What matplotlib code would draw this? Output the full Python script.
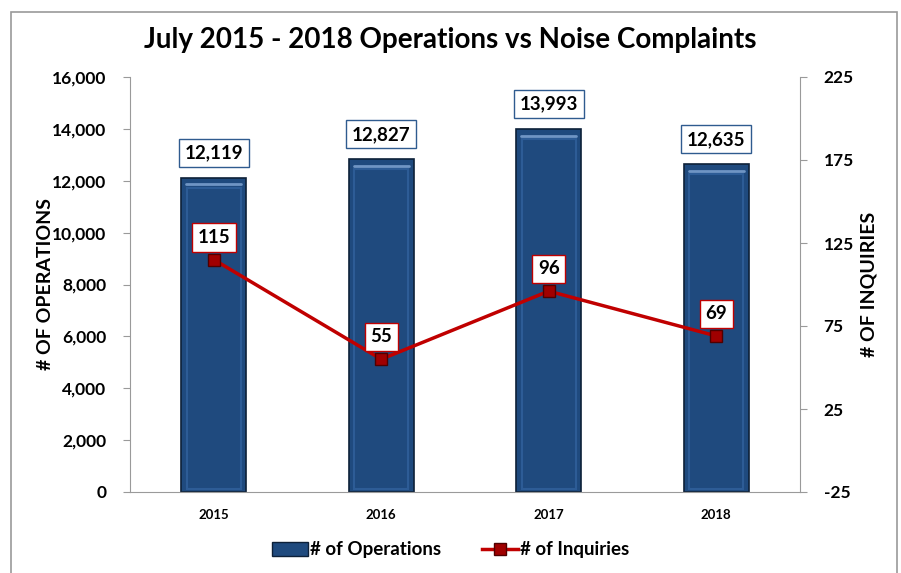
import numpy as np
import matplotlib.pyplot as plt
from matplotlib.patches import Rectangle, Patch
from matplotlib.lines import Line2D

years = ['2015', '2016', '2017', '2018']
operations = [12119, 12827, 13993, 12635]
inquiries = [115, 55, 96, 69]

plt.rcParams['font.family'] = ['Lato', 'DejaVu Sans']
plt.rcParams['font.weight'] = 'bold'
plt.rcParams['axes.unicode_minus'] = False

fig = plt.figure(figsize=(9.01, 5.73), dpi=100)
W, H = 901, 573

# outer chart frame
fig.patches.append(Rectangle((11 / W, -0.01), (897 - 11) / W, 1 - 12 / H + 0.01,
                             transform=fig.transFigure, fill=False,
                             edgecolor='#9a9a9a', linewidth=1.2))

ax = fig.add_axes([130 / W, 1 - 492 / H, (800 - 130) / W, (492 - 77) / H])
ax2 = ax.twinx()

x = np.arange(len(years))
bw = 0.39
bars = ax.bar(x, operations, width=bw, color='#1F4A7E', edgecolor='#0d2038',
              linewidth=1.2, zorder=2)
# lighter inner bevel for the bars
for b in bars:
    bx, by, bwid, bh = b.get_x(), b.get_y(), b.get_width(), b.get_height()
    ax.add_patch(Rectangle((bx + 0.035, by + 120), bwid - 0.07, bh - 500,
                           fill=False, edgecolor='#2d5c96', linewidth=1.5, zorder=3))
    ax.plot([bx + 0.03, bx + bwid - 0.03], [by + bh - 250] * 2, color='#6f95c4',
            linewidth=2, solid_capstyle='round', zorder=3)

for xi, v in zip(x, operations):
    ax.annotate(f'{v:,}', (xi, v), xytext=(0, 18), textcoords='offset points',
                ha='center', va='center', fontsize=13.5, fontweight='bold',
                bbox=dict(boxstyle='square,pad=0.3', fc='white', ec='#2f5b8f', lw=1),
                zorder=6)

ax.set_ylim(0, 16000)
ax.set_yticks(np.arange(0, 16001, 2000))
ax.set_yticklabels([f'{t:,}' for t in range(0, 16001, 2000)])
ax.set_xlim(-0.5, 3.5)
ax.set_xticks(x)
ax.set_xticklabels(years, fontsize=9.5, fontweight='bold')
ax.tick_params(axis='x', length=0, pad=12)
ax.tick_params(axis='y', labelsize=12.5, length=5, color='#9a9a9a', pad=12)
ax.set_ylabel('# OF OPERATIONS', fontsize=14, fontweight='bold')
ax.yaxis.set_label_coords(-0.113, 0.5)

ax2.plot(x, inquiries, color='#C00000', linewidth=2.5, marker='s', markersize=9,
         markerfacecolor='#A00000', markeredgecolor='#500000', zorder=5)
for xi, v in zip(x, inquiries):
    ax2.annotate(str(v), (xi, v), xytext=(0, 16), textcoords='offset points',
                 ha='center', va='center', fontsize=13.5, fontweight='bold',
                 bbox=dict(boxstyle='square,pad=0.3', fc='white', ec='#C00000', lw=1),
                 zorder=6)
ax2.set_ylim(-25, 225)
ax2.set_yticks(np.arange(-25, 226, 50))
ax2.tick_params(axis='y', labelsize=12.5, length=5, color='#9a9a9a', pad=12)
ax2.set_ylabel('# OF INQUIRIES', fontsize=14, fontweight='bold')
ax2.yaxis.set_label_coords(1.09, 0.5)

for a in (ax, ax2):
    a.spines['top'].set_visible(False)
    for s in ('left', 'right', 'bottom'):
        a.spines[s].set_color('#9a9a9a')
ax.spines['right'].set_visible(False)
ax2.spines['left'].set_visible(False)
ax2.spines['bottom'].set_visible(False)

fig.text(0.5, 1 - 40 / H, 'July 2015 - 2018 Operations vs Noise Complaints',
         ha='center', va='center', fontsize=20, fontweight='bold')

handles = [Patch(facecolor='#1F4A7E', edgecolor='#0d2038'),
           Line2D([], [], color='#C00000', linewidth=2.5, marker='s', markersize=8,
                  markerfacecolor='#A00000', markeredgecolor='#500000')]
fig.legend(handles, ['# of Operations', '# of Inquiries'], loc='center',
           bbox_to_anchor=(0.5, 1 - 550 / H), ncol=2, frameon=False,
           handlelength=1.9, handletextpad=0.1, columnspacing=2.2,
           prop={'weight': 'bold', 'size': 13.5})

fig.savefig('out.png', dpi=100)
